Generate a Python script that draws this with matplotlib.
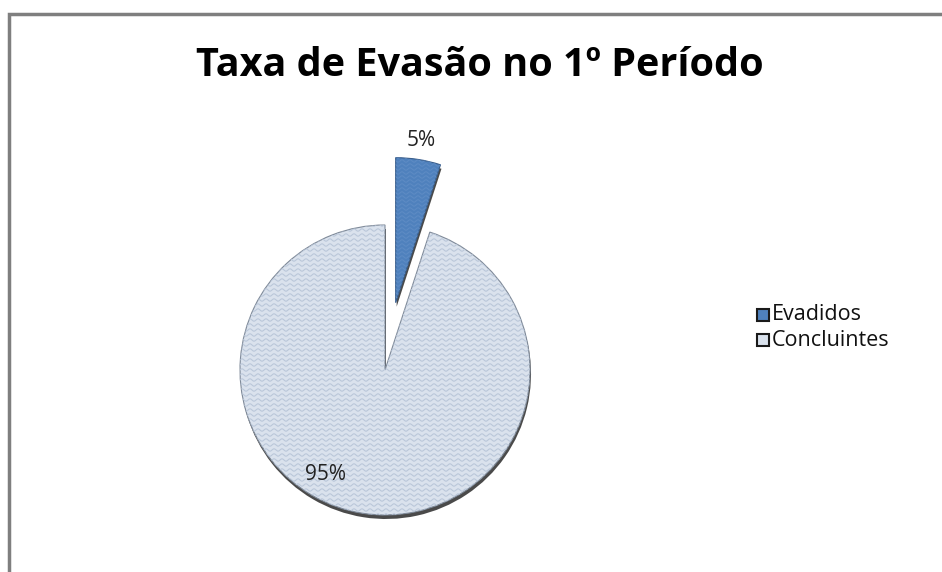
import matplotlib.pyplot as plt
import numpy as np
from matplotlib.patches import Rectangle

categorias = ["Evadidos", "Concluintes"]
valores = [5, 95]
rotulos = ["5%", "95%"]
cores = ["#4f81bd", "#dae2ed"]

W, H = 942, 572
fig = plt.figure(figsize=(W / 100, H / 100), dpi=100)
ax = fig.add_axes([0, 0, 1, 1])
ax.set_xlim(0, W)
ax.set_ylim(0, H)
ax.set_aspect("equal")
ax.axis("off")

# moldura cinza do gráfico
fig.patches.append(Rectangle((9 / W, -0.05), 1.1, 1 - 14 / H + 0.05,
                             transform=fig.transFigure, fill=False,
                             edgecolor="#7f7f7f", linewidth=2.5))

cx, cy, r = 385, H - 370, 145
explode = [0.47 * r, 0]

# sombra por baixo da pizza
ax.pie(valores, colors=["#4a4a4a", "#4a4a4a"], startangle=90, counterclock=False,
       explode=explode, radius=r, center=(cx + 1, cy - 4),
       wedgeprops=dict(linewidth=0), frame=True)

wedges, _ = ax.pie(valores, colors=cores, startangle=90, counterclock=False,
                   explode=explode, radius=r, center=(cx, cy),
                   wedgeprops=dict(linewidth=0.8, edgecolor="#7f8a99"), frame=True)
wedges[0].set_edgecolor("#3b5f8c")

# textura ondulada nas fatias
for w, cor_linha, passo in [(wedges[1], "#bac7d9", 5.0), (wedges[0], "#5d8bc4", 4.0)]:
    xs = np.linspace(0, W, 3000)
    for y0 in np.arange(cy - r - 10, cy + 2 * r, passo):
        ln, = ax.plot(xs, y0 + 1.2 * np.sin(xs * 2 * np.pi / 8.0),
                      color=cor_linha, linewidth=0.8, zorder=w.get_zorder() + 0.1)
        ln.set_clip_path(w)

ax.set_xlim(0, W)
ax.set_ylim(0, H)
ax.axis("off")

# rótulos de percentual
ax.text(421, H - 140, rotulos[0], ha="center", va="center", fontsize=15,
        family="Open Sans", color="#222222")
ax.text(326, H - 474, rotulos[1], ha="center", va="center", fontsize=15,
        family="Open Sans", color="#222222")

fig.text(480 / W, 1 - 66 / H, "Taxa de Evasão no 1º Período", ha="center",
         va="center", fontsize=28.5, fontweight="bold", family="Open Sans")

# legenda
for i, (nome, cor) in enumerate(zip(categorias, cores)):
    y = H - 315 - 25 * i
    ax.add_patch(Rectangle((757, y - 6), 12, 12, facecolor=cor,
                           edgecolor="#1a1a1a", linewidth=1.5))
    ax.text(772, y, nome, ha="left", va="center", fontsize=15.5,
            family="Open Sans", color="#111111")

fig.savefig("out.png", dpi=100, facecolor="white")
